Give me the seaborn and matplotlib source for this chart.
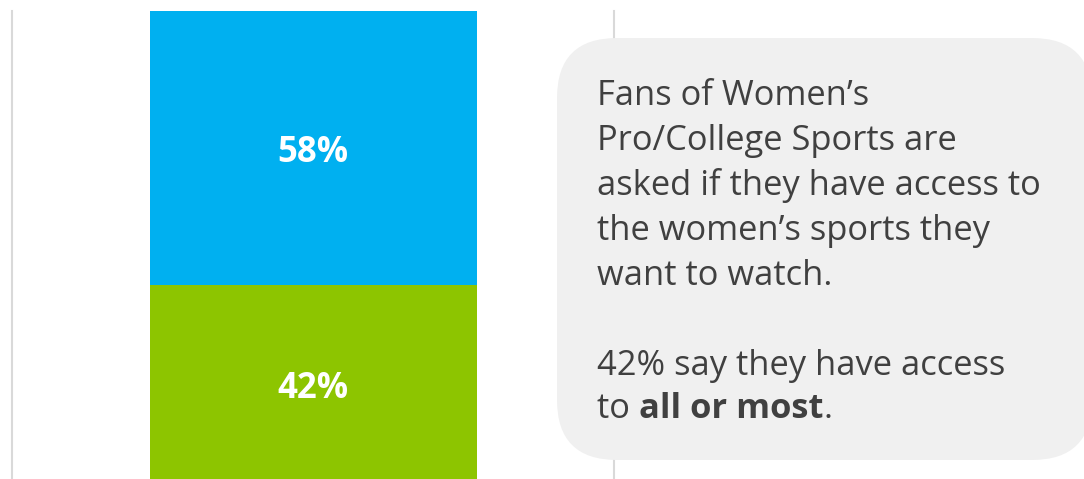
import matplotlib
matplotlib.use("Agg")
import matplotlib.pyplot as plt
from matplotlib.patches import FancyBboxPatch
from matplotlib.transforms import IdentityTransform
import seaborn as sns
import pandas as pd

# ---- data ----
categories = ["Access"]
all_or_most = [42]
some_or_none = [58]
label_all = "42%"
label_rest = "58%"
body_lines = [
    "Fans of Women\u2019s",
    "Pro/College Sports are",
    "asked if they have access to",
    "the women\u2019s sports they",
    "want to watch.",
]
body_line2 = ["42% say they have access"]

sns.set_theme(style="white")
plt.rcParams["font.family"] = ["Open Sans", "DejaVu Sans"]

W, H, DPI = 1084, 479, 100
fig = plt.figure(figsize=(W / DPI, H / DPI), dpi=DPI)
fig.patch.set_facecolor("white")

ax = fig.add_axes([12 / W, -4.5 / H, 602 / W, 472.5 / H])
df = pd.DataFrame({
    "cat": categories,
    "total": [a + b for a, b in zip(all_or_most, some_or_none)],
    "bottom": all_or_most,
})
bw = 327 / 602
sns.barplot(data=df, x="cat", y="total", color="#00B0F0", saturation=1,
            width=bw, ax=ax, linewidth=0)
sns.barplot(data=df, x="cat", y="bottom", color="#8DC500", saturation=1,
            width=bw, ax=ax, linewidth=0)
ax.set_xlim(-0.5, 0.5)
ax.set_ylim(0, 100)
ax.set_xlabel("")
ax.set_ylabel("")
ax.set_xticks([])
ax.set_yticks([])
for s in ["top", "bottom"]:
    ax.spines[s].set_visible(False)
for s in ["left", "right"]:
    ax.spines[s].set_color("#d9d9d9")
    ax.spines[s].set_linewidth(1.5)

ax.text(0, all_or_most[0] / 2, label_all, ha="center", va="center_baseline",
        color="white", fontsize=25, fontweight="bold")
ax.text(0, all_or_most[0] + some_or_none[0] / 2, label_rest, ha="center",
        va="center_baseline", color="white", fontsize=25, fontweight="bold")

# ---- callout box (pixel coordinates) ----
ident = IdentityTransform()
bx0, by_top, bx1, by_bot = 557, 38, 1092, 460
r = 60
box = FancyBboxPatch((bx0 + r, H - by_bot + r), (bx1 - bx0) - 2 * r,
                     (by_bot - by_top) - 2 * r,
                     boxstyle=f"round,pad={r},rounding_size={r}",
                     transform=ident, facecolor="#F0F0F0", edgecolor="none",
                     zorder=5)
fig.patches.append(box)
box.set_figure(fig)

tc = "#404040"
fs = 24.8
x0 = 597
baselines = [105, 150, 195, 240, 285]
for line, yb in zip(body_lines, baselines):
    fig.text(x0, H - yb, line, transform=ident, fontsize=fs, color=tc,
             va="baseline", ha="left", zorder=6)
fig.text(x0, H - 375, body_line2[0], transform=ident, fontsize=fs, color=tc,
         va="baseline", ha="left", zorder=6)

renderer = fig.canvas.get_renderer()
t1 = fig.text(x0, H - 418, "to ", transform=ident, fontsize=fs, color=tc,
              va="baseline", ha="left", zorder=6)
e1 = t1.get_window_extent(renderer)
t2 = fig.text(e1.x1, H - 418, "all or most", transform=ident, fontsize=fs,
              color=tc, fontweight="bold", va="baseline", ha="left", zorder=6)
e2 = t2.get_window_extent(renderer)
fig.text(e2.x1, H - 418, ".", transform=ident, fontsize=fs, color=tc,
         va="baseline", ha="left", zorder=6)

fig.savefig("out.png", dpi=DPI, facecolor="white")
